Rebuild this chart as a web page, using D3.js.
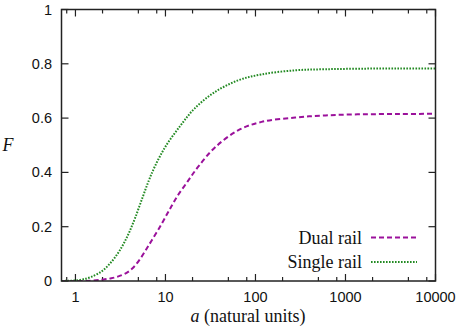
<!DOCTYPE html>
<html>
<head>
<meta charset="utf-8">
<script src="https://cdn.jsdelivr.net/npm/d3@7"></script>
<style>
  html, body { margin: 0; padding: 0; background: #fff; }
  svg { display: block; }
</style>
</head>
<body>
<svg id="chart" width="463" height="330"></svg>
<script>
// ---- data ----
const seriesNames = ["Dual rail", "Single rail"];
const dualA = [0.7, 1, 1.5, 2, 2.5, 3, 3.7, 4.4, 5.2, 6.2, 7, 8.7, 10.35, 11.3, 13.4, 17.5, 23, 35, 64, 117, 276, 600, 1500, 4000, 10000];
const dualF = [0, 0, 0.001, 0.005, 0.01, 0.017, 0.03, 0.05, 0.08, 0.12, 0.148, 0.2, 0.245, 0.267, 0.31, 0.365, 0.42, 0.49, 0.555, 0.586, 0.602, 0.61, 0.614, 0.615, 0.616];
const singleA = [0.7, 0.85, 1, 1.2, 1.5, 2, 2.5, 3, 3.5, 4, 4.6, 5.5, 6.5, 7.7, 10, 14.5, 21, 35, 64, 117, 276, 600, 1500, 4000, 10000];
const singleF = [0, 0.001, 0.002, 0.006, 0.015, 0.038, 0.07, 0.105, 0.143, 0.183, 0.232, 0.303, 0.368, 0.425, 0.495, 0.57, 0.635, 0.695, 0.739, 0.761, 0.776, 0.78, 0.782, 0.783, 0.783];
const xTickValues = [1, 10, 100, 1000, 10000];
const xTickLabels = ["1", "10", "100", "1000", "10000"];
const xMinorTicks = [0.8, 2, 5, 8, 20, 50, 80, 200, 500, 800, 2000, 5000, 8000];
const yTickValues = [0, 0.2, 0.4, 0.6, 0.8, 1];
const yTickLabels = ["0", "0.2", "0.4", "0.6", "0.8", "1"];

// ---- layout ----
const L = 61.5, R = 435.5, T = 9.5, B = 281;
const svg = d3.select("#chart");
const x = d3.scaleLog().domain([0.7, 10000]).range([L, R]);
const y = d3.scaleLinear().domain([0, 1]).range([B, T]);

const frameColor = "#222";
const sans = "'Liberation Sans', Arial, sans-serif";
const serif = "'Liberation Serif', 'Times New Roman', serif";

svg.append("defs").append("clipPath").attr("id", "clip")
  .append("rect").attr("x", L).attr("y", T).attr("width", R - L).attr("height", B - T);

// ticks (inward, mirrored)
const tg = svg.append("g").attr("stroke", frameColor).attr("stroke-width", 1.2);
xTickValues.forEach(v => {
  tg.append("line").attr("x1", x(v)).attr("x2", x(v)).attr("y1", B).attr("y2", B - 7);
  tg.append("line").attr("x1", x(v)).attr("x2", x(v)).attr("y1", T).attr("y2", T + 7);
});
xMinorTicks.forEach(v => {
  tg.append("line").attr("x1", x(v)).attr("x2", x(v)).attr("y1", B).attr("y2", B - 4);
  tg.append("line").attr("x1", x(v)).attr("x2", x(v)).attr("y1", T).attr("y2", T + 4);
});
yTickValues.forEach(v => {
  tg.append("line").attr("x1", L).attr("x2", L + 7).attr("y1", y(v)).attr("y2", y(v));
  tg.append("line").attr("x1", R).attr("x2", R - 7).attr("y1", y(v)).attr("y2", y(v));
});

// tick labels
const lg = svg.append("g").attr("font-family", sans).attr("font-size", 14.5).attr("fill", "#111");
xTickValues.forEach((v, i) => {
  lg.append("text").attr("x", x(v)).attr("y", 302).attr("text-anchor", "middle").text(xTickLabels[i]);
});
yTickValues.forEach((v, i) => {
  lg.append("text").attr("x", 52).attr("y", y(v) + 5).attr("text-anchor", "end").text(yTickLabels[i]);
});

// axis titles
const xt = svg.append("text").attr("x", 248).attr("y", 322).attr("text-anchor", "middle")
  .attr("font-family", serif).attr("font-size", 18).attr("fill", "#111");
xt.append("tspan").attr("font-style", "italic").text("a");
xt.append("tspan").text(" (natural units)");
svg.append("text").attr("x", 8).attr("y", 151).attr("text-anchor", "middle")
  .attr("font-family", serif).attr("font-style", "italic").attr("font-size", 18).attr("fill", "#111").text("F");

// curves
const line = d3.line().x(d => x(d[0])).y(d => y(d[1])).curve(d3.curveCatmullRom.alpha(0.5));
const styles = [
  { color: "#9b119b", dash: "5,3" },
  { color: "#238a23", dash: "1.6,1.4" }
];
const data = [d3.zip(dualA, dualF), d3.zip(singleA, singleF)];
const cg = svg.append("g").attr("clip-path", "url(#clip)");
data.forEach((d, i) => {
  cg.append("path").datum(d).attr("d", line).attr("fill", "none")
    .attr("stroke", styles[i].color).attr("stroke-width", 2)
    .attr("stroke-dasharray", styles[i].dash);
});

// legend
const legY = [237.5, 262];
seriesNames.forEach((n, i) => {
  svg.append("text").attr("x", 362).attr("y", legY[i] + 6).attr("text-anchor", "end")
    .attr("font-family", serif).attr("font-size", 18).attr("fill", "#111").text(n);
  svg.append("line").attr("x1", 371).attr("x2", 417).attr("y1", legY[i]).attr("y2", legY[i])
    .attr("stroke", styles[i].color).attr("stroke-width", 2).attr("stroke-dasharray", styles[i].dash);
});

// frame
svg.append("rect").attr("x", L).attr("y", T).attr("width", R - L).attr("height", B - T)
  .attr("fill", "none").attr("stroke", frameColor).attr("stroke-width", 1.5);
</script>
</body>
</html>
